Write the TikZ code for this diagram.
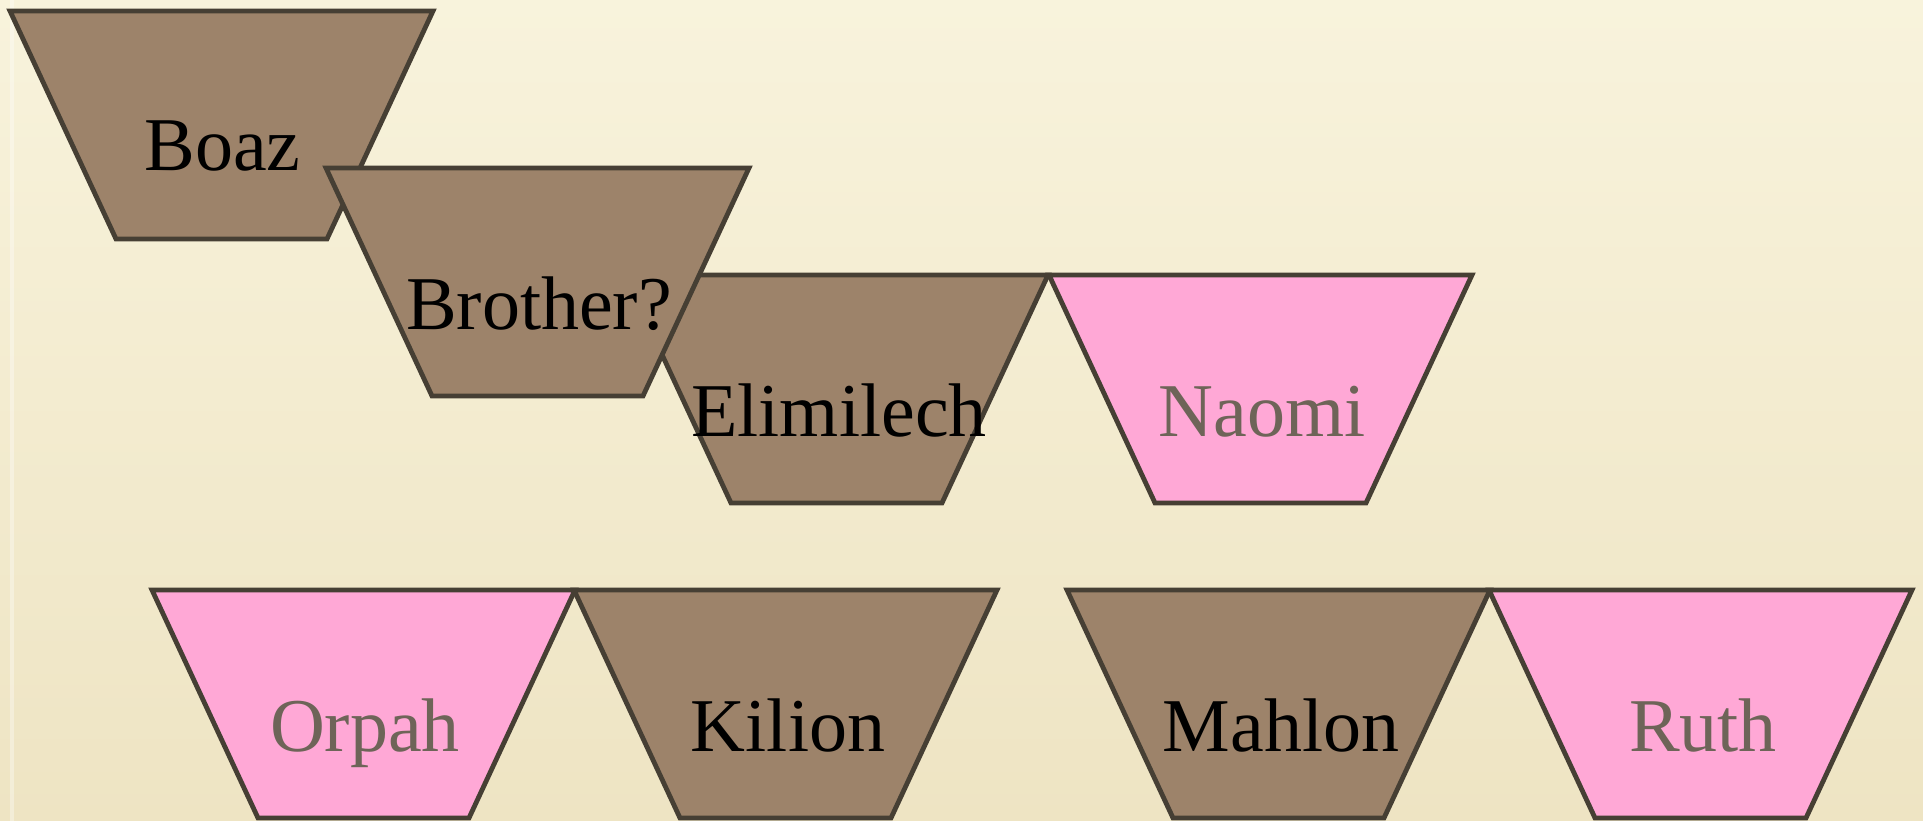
\documentclass[tikz,border=0pt]{standalone}
\usepackage{fontspec}
\setmainfont{Liberation Serif}
\usetikzlibrary{positioning}
\definecolor{ruth-paper}{HTML}{F8F3DC}
\definecolor{ruth-paperdark}{HTML}{EEE4C3}
\definecolor{ruth-brown}{HTML}{9D836A}
\definecolor{ruth-pink}{HTML}{FFA8D6}
\definecolor{ruth-line}{HTML}{463F34}
\definecolor{ruth-grey}{HTML}{6E6458}

\begin{document}
\begin{tikzpicture}[x=1pt, y=-1pt,
    man/.style={fill=ruth-brown, draw=ruth-line, line width=4.8pt},
    woman/.style={fill=ruth-pink, draw=ruth-line, line width=4.8pt},
    manname/.style={anchor=base, inner sep=0pt, text=black, font=\fontsize{76}{80}\selectfont},
    womanname/.style={manname, text=ruth-grey}]

    % paper
    \shade[top color=ruth-paper, bottom color=ruth-paperdark] (0,0) rectangle (1923,821);
    \fill[white, opacity=0.35] (10,0) rectangle (14,821);
    \useasboundingbox (0,0) rectangle (1923,821);

    % elders
    \draw[man] (10,11) -- ++(423,0) -- ++(-106,228) -- ++(-211,0) -- cycle;
    \node[manname] (boaz) at (222.5,171) {Boaz};
    \draw[man] (625,275) -- ++(423,0) -- ++(-106,228) -- ++(-211,0) -- cycle;
    \node[manname] (elimilech) at (839,436) {Elimilech};
    \draw[man] (326,168) -- ++(423,0) -- ++(-106,228) -- ++(-211,0) -- cycle;
    \node[manname] (brother) at (539,329) {Brother?};
    \draw[woman] (1049,275) -- ++(423,0) -- ++(-106,228) -- ++(-211,0) -- cycle;
    \node[womanname] (naomi) at (1262,436) {Naomi};

    % sons and wives
    \draw[woman] (152,590) -- ++(423,0) -- ++(-106,228) -- ++(-211,0) -- cycle;
    \node[womanname] (orpah) at (365,751) {Orpah};
    \draw[man] (574,590) -- ++(423,0) -- ++(-106,228) -- ++(-211,0) -- cycle;
    \node[manname] (kilion) at (788,751) {Kilion};
    \draw[man] (1067,590) -- ++(423,0) -- ++(-106,228) -- ++(-211,0) -- cycle;
    \node[manname] (mahlon) at (1281,751) {Mahlon};
    \draw[woman] (1489,590) -- ++(423,0) -- ++(-106,228) -- ++(-211,0) -- cycle;
    \node[womanname] (ruth) at (1703,751) {Ruth};

\end{tikzpicture}
\end{document}
